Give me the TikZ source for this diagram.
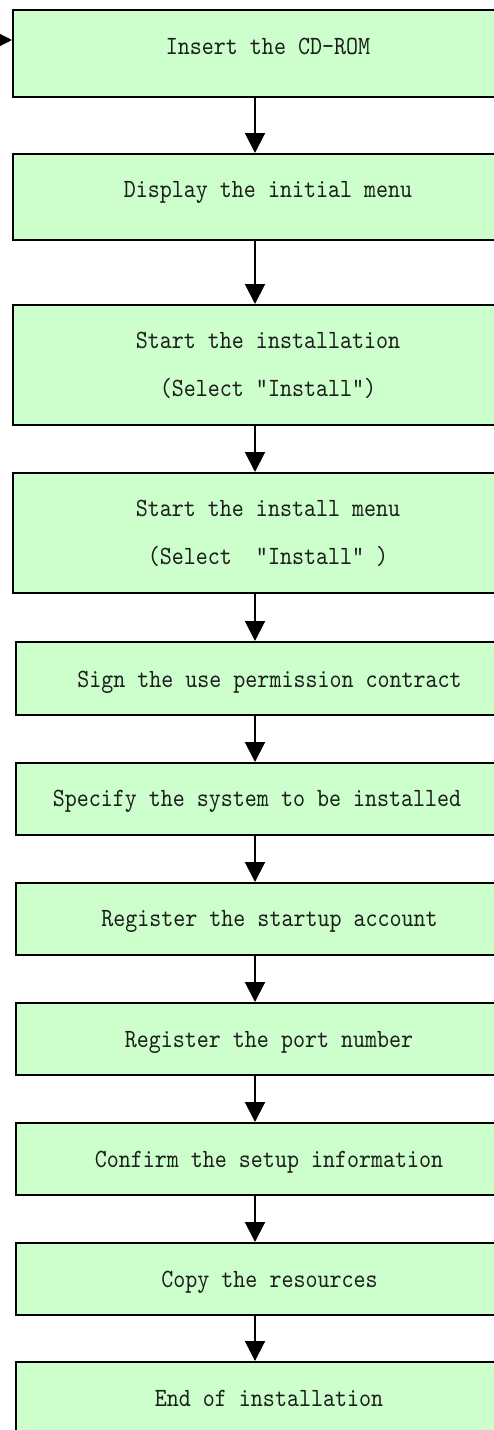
\documentclass[tikz,border=0pt]{standalone}
\usepackage{fontspec}
\newfontfamily\stepfont{lmmono10-regular.otf}[FakeStretch=0.87]
\usetikzlibrary{arrows.meta}
\definecolor{boxgreen}{RGB}{204,255,204}
\definecolor{txtcol}{RGB}{28,30,28}
\tikzset{
  widebox/.style={draw=black, line width=2pt, fill=boxgreen, rectangle, inner sep=0pt, minimum width=510pt},
  narrowbox/.style={draw=black, line width=2pt, fill=boxgreen, rectangle, inner sep=0pt, minimum width=507pt},
  steptext/.style={font={\stepfont\fontsize{26.3pt}{48pt}\selectfont}, text=txtcol, inner sep=0pt, anchor=base},
  twoline/.style={font={\stepfont\fontsize{26.3pt}{48pt}\selectfont}, text=txtcol, inner sep=0pt, align=center, anchor=center},
  flowarrow/.style={line width=2pt, -{Triangle[width=20pt,length=20pt]}}
}
\begin{document}
\begin{tikzpicture}[x=1pt,y=-1pt]
\useasboundingbox (0,0) rectangle (494,1430);
\clip (0,0) rectangle (494,1430);
\fill[white] (0,0) rectangle (494,1430);

% boxes
\node[widebox, minimum height=87pt] (b1) at (268,53.5) {};
\node[widebox, minimum height=86pt] (b2) at (268,197) {};
\node[widebox, minimum height=120pt] (b3) at (268,365) {};
\node[widebox, minimum height=120pt] (b4) at (268,533) {};
\node[narrowbox, minimum height=73pt] (b5) at (269.5,678.5) {};
\node[narrowbox, minimum height=72pt] (b6) at (269.5,799) {};
\node[narrowbox, minimum height=72pt] (b7) at (269.5,919) {};
\node[narrowbox, minimum height=72pt] (b8) at (269.5,1039) {};
\node[narrowbox, minimum height=72pt] (b9) at (269.5,1159) {};
\node[narrowbox, minimum height=72pt] (b10) at (269.5,1279) {};
\node[narrowbox, minimum height=72pt] (b11) at (269.5,1398) {};

% texts
\node[steptext] (t1) at (268,54) {Insert the CD-ROM};
\node[steptext] (t2) at (268,197) {Display the initial menu};
\node[twoline] (t3) at (268,365) {Start the installation\\(Select "Install")};
\node[twoline] (t4) at (268,533) {Start the install menu\\(Select\ \ “Install”\ )};
\node[steptext] (t5) at (269.5,687) {Sign the use permission contract};
\node[steptext] (t6) at (257,806) {Specify the system to be installed};
\node[steptext] (t7) at (269.5,926) {Register the startup account};
\node[steptext] (t8) at (269,1047) {Register the port number};
\node[steptext] (t9) at (269,1167) {Confirm the setup information};
\node[steptext] (t10) at (269.5,1287) {Copy the resources};
\node[steptext] (t11) at (269,1406) {End of installation};

% connectors
\coordinate (ax) at (255,0);
\coordinate (in) at (-20,40);
\draw[flowarrow] (in) -- (in -| b1.west);
\draw[flowarrow] (ax |- b1.south) -- (ax |- b2.north);
\draw[flowarrow] (ax |- b2.south) -- (ax |- b3.north);
\draw[flowarrow] (ax |- b3.south) -- (ax |- b4.north);
\draw[flowarrow] (ax |- b4.south) -- (ax |- b5.north);
\draw[flowarrow] (ax |- b5.south) -- (ax |- b6.north);
\draw[flowarrow] (ax |- b6.south) -- (ax |- b7.north);
\draw[flowarrow] (ax |- b7.south) -- (ax |- b8.north);
\draw[flowarrow] (ax |- b8.south) -- (ax |- b9.north);
\draw[flowarrow] (ax |- b9.south) -- (ax |- b10.north);
\draw[flowarrow] (ax |- b10.south) -- (ax |- b11.north);
\end{tikzpicture}
\end{document}
